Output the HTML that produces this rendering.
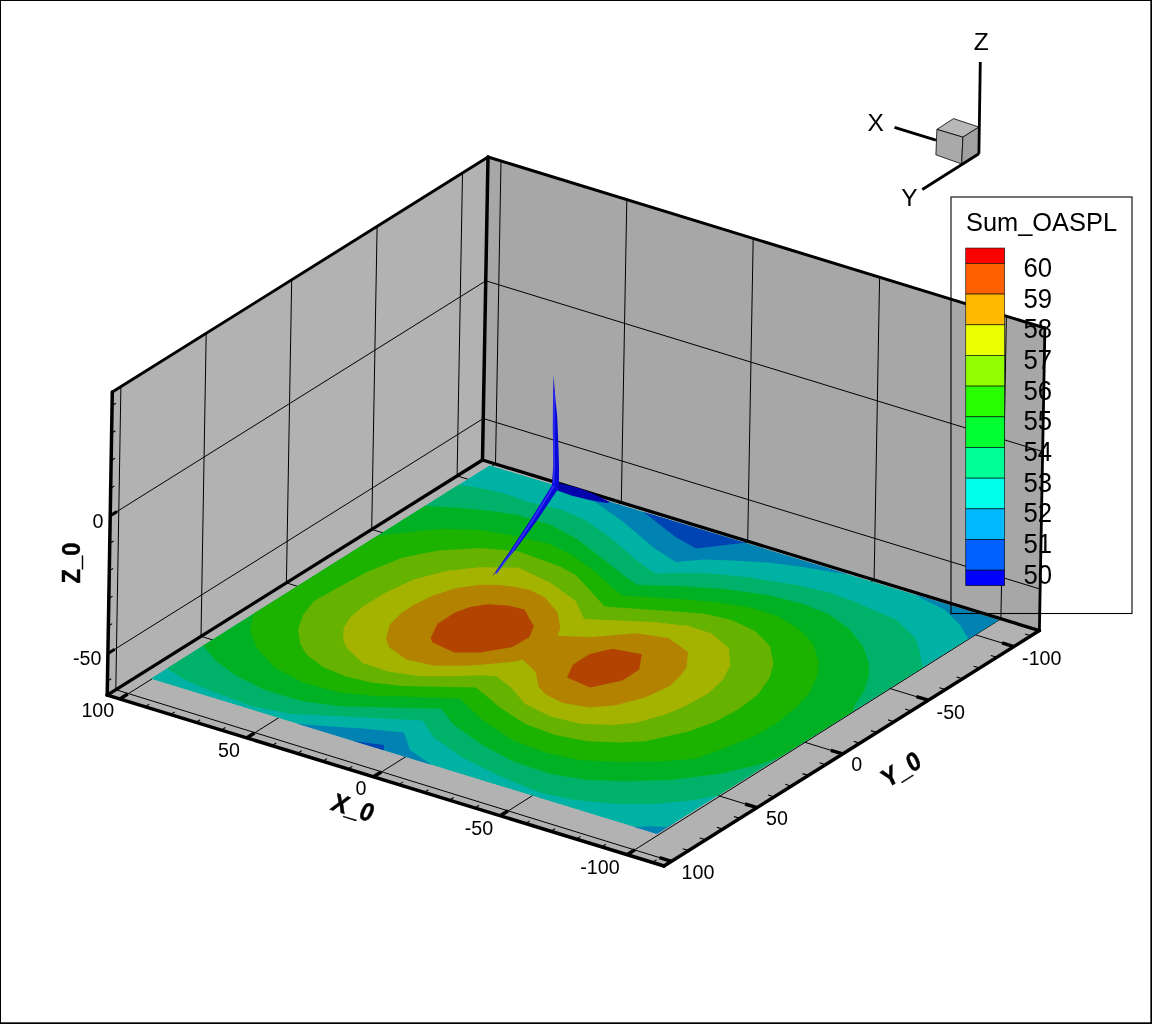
<!DOCTYPE html>
<html><head><meta charset="utf-8"><title>Sum_OASPL</title>
<style>html,body{margin:0;padding:0;background:#fff;}body{width:1152px;height:1024px;overflow:hidden;position:relative;font-family:"Liberation Sans",sans-serif;}</style>
</head><body>
<svg width="1152" height="1024" viewBox="0 0 1152 1024" style="position:absolute;left:0;top:0;display:block;will-change:transform" font-family="Liberation Sans, sans-serif">
<rect x="0" y="0" width="1152" height="1024" fill="#fff"/>
<polygon points="112.3,392.0 488.0,157.0 482.5,460.0 107.2,695.1" fill="#b2b2b2"/>
<polygon points="488.0,157.0 1044.9,328.0 1039.4,630.6 482.5,460.0" fill="#a7a7a7"/>
<polygon points="107.2,695.1 482.5,460.0 1039.4,630.6 664.0,866.0" fill="#b2b2b2"/>
<g stroke="#000" stroke-width="1" fill="none">
<line x1="120.9" y1="386.6" x2="115.8" y2="689.7"/>
<line x1="206.2" y1="333.2" x2="201.0" y2="636.3"/>
<line x1="291.7" y1="279.8" x2="286.4" y2="582.9"/>
<line x1="377.1" y1="226.4" x2="371.7" y2="529.4"/>
<line x1="462.5" y1="172.9" x2="457.1" y2="475.9"/>
<line x1="110.2" y1="515.8" x2="485.8" y2="280.8"/>
<line x1="485.8" y1="280.8" x2="1042.7" y2="451.6"/>
<line x1="107.9" y1="653.6" x2="483.3" y2="418.5"/>
<line x1="483.3" y1="418.5" x2="1040.2" y2="589.1"/>
<line x1="501.0" y1="161.0" x2="495.5" y2="464.0"/>
<line x1="626.8" y1="199.6" x2="621.3" y2="502.5"/>
<line x1="753.2" y1="238.4" x2="747.7" y2="541.2"/>
<line x1="879.6" y1="277.2" x2="874.1" y2="579.9"/>
<line x1="1006.4" y1="316.2" x2="1000.9" y2="618.8"/>
<line x1="119.8" y1="699.0" x2="495.5" y2="464.0"/>
<line x1="246.6" y1="737.9" x2="621.3" y2="502.5"/>
<line x1="373.7" y1="776.9" x2="747.7" y2="541.2"/>
<line x1="500.5" y1="815.8" x2="874.1" y2="579.9"/>
<line x1="627.0" y1="854.7" x2="1000.9" y2="618.8"/>
<line x1="115.8" y1="689.7" x2="671.5" y2="861.3"/>
<line x1="201.0" y1="636.3" x2="757.1" y2="807.6"/>
<line x1="286.4" y1="582.9" x2="842.7" y2="753.9"/>
<line x1="371.7" y1="529.4" x2="928.3" y2="700.3"/>
<line x1="457.1" y1="475.9" x2="1013.9" y2="646.6"/>
</g>
<defs><clipPath id="cq"><polygon points="150.5,678.7 489.6,465.2 998.8,620.0 657.0,834.0"/></clipPath></defs>
<g clip-path="url(#cq)">
<polygon points="150.5,678.7 489.6,465.2 998.8,620.0 657.0,834.0" fill="rgb(0,178,164)"/>
<polygon points="585.0,485.0 585.0,493.0 593.6,501.0 622.5,521.2 653.8,547.8 675.6,561.9 704.0,559.5 732.7,560.5 767.9,562.6 803.0,567.0 832.9,572.2 846.0,574.0 852.0,570.0 845.0,555.0" fill="rgb(0,130,178)"/>
<polygon points="905.0,585.0 910.0,590.0 920.0,597.5 945.0,610.0 960.0,625.0 967.5,637.5 972.0,646.0 1010.0,630.0 1000.0,605.0" fill="rgb(0,130,178)"/>
<polygon points="625.0,832.0 633.8,827.0 650.0,826.2 666.2,827.0 676.0,822.0 665.0,850.0 640.0,845.0" fill="rgb(0,130,178)"/>
<polygon points="292.0,726.0 297.5,723.8 327.5,726.2 365.0,728.8 404.0,732.5 410.0,750.0 430.0,763.8 438.0,772.0 280.0,732.0" fill="rgb(0,130,178)"/>
<polygon points="636.0,500.0 644.4,512.7 675.6,536.9 696.0,548.6 742.5,543.0 752.0,542.0 752.0,525.0" fill="rgb(0,67,178)"/>
<polygon points="352.5,741.0 383.8,745.0 384.0,751.5 384.0,760.0 350.0,748.0" fill="rgb(0,67,178)"/>
<polygon points="450.0,478.0 460.0,485.0 480.0,488.0 505.0,493.8 530.0,502.5 562.5,510.0 585.1,520.0 611.5,538.5 637.9,561.3 650.0,570.1 656.0,573.6 680.0,572.7 706.4,573.2 750.3,577.6 794.2,584.6 829.4,592.5 855.7,602.2 880.0,612.7 896.0,619.5 915.0,637.5 920.0,652.5 922.5,666.2 930.0,672.0 730.0,797.0 720.0,795.0 695.0,800.0 657.5,803.8 612.5,803.8 575.0,800.0 540.0,792.5 500.0,776.2 462.5,757.5 433.8,737.5 422.5,720.5 390.0,718.8 340.0,716.2 290.0,713.8 252.5,706.2 215.0,692.5 185.0,680.0 167.5,668.8 160.0,662.0" fill="rgb(0,178,105)"/>
<polygon points="418.0,500.0 427.5,506.2 455.0,507.5 492.5,511.2 518.0,515.0 550.0,524.8 576.4,538.5 602.7,558.7 624.7,576.2 637.9,585.0 680.0,586.0 723.9,589.0 767.9,595.1 803.0,603.9 829.4,614.5 848.7,628.5 862.8,646.1 868.9,663.7 868.9,676.0 864.5,690.1 855.7,704.1 853.1,709.4 862.0,717.0 792.0,760.0 782.5,756.2 757.5,765.0 720.0,773.8 670.0,780.0 625.0,781.2 587.5,780.0 550.0,773.8 512.5,761.2 482.5,745.0 453.8,725.0 441.2,708.8 390.0,707.5 340.0,706.2 302.5,701.2 265.0,690.0 235.0,675.0 215.0,660.0 203.8,646.2 196.0,640.0" fill="rgb(0,178,35)"/>
<polygon points="368.0,530.0 377.5,536.2 405.0,532.5 442.5,528.8 480.0,530.0 518.0,536.2 550.0,544.2 572.0,555.1 593.9,571.0 611.5,586.8 622.0,595.6 680.0,599.0 715.1,602.2 750.3,607.5 778.4,616.2 799.5,629.4 813.6,644.4 818.8,661.9 817.1,676.0 810.0,691.8 796.0,707.6 778.4,721.7 755.6,735.8 720.0,750.0 695.0,758.8 657.5,761.5 620.0,762.0 580.0,760.0 545.0,752.5 512.5,740.0 482.5,720.0 460.0,698.8 400.0,696.2 377.5,696.2 340.0,692.5 302.5,682.5 275.0,667.5 256.2,647.5 250.0,630.0 253.8,613.8 244.0,608.0" fill="rgb(28,178,0)"/>
<polygon points="518.0,551.2 560.0,566.6 575.6,575.0 591.2,591.6 604.5,606.4 680.0,611.8 706.4,614.1 732.7,620.6 755.6,631.2 770.0,646.1 773.5,663.7 769.6,677.8 757.3,695.3 738.0,709.4 715.1,721.7 688.8,731.4 680.0,733.5 645.0,741.2 620.0,742.5 587.5,741.2 555.0,735.0 525.0,723.8 500.0,707.5 476.2,687.5 438.2,686.7 403.0,685.9 371.4,682.4 345.0,676.2 322.2,666.5 306.4,654.2 300.2,643.7 298.1,629.6 302.8,615.6 313.4,601.5 338.0,587.5 367.9,571.6 403.0,557.6 438.2,550.5 480.0,548.0" fill="rgb(102,178,0)"/>
<polygon points="518.0,567.5 550.0,582.5 575.6,601.0 584.2,618.9 653.8,622.0 680.0,625.0 687.0,625.4 711.6,633.5 728.9,647.9 730.1,665.4 723.1,679.5 708.1,693.6 690.5,703.2 680.0,708.5 667.5,713.8 637.5,722.5 612.5,725.0 580.0,723.8 550.0,716.2 525.0,703.8 511.2,687.5 496.2,676.2 480.0,675.3 455.7,676.2 420.6,676.2 389.0,671.8 362.6,663.0 347.7,649.0 343.3,641.0 343.6,627.9 350.3,617.3 362.6,606.8 385.4,592.7 413.6,579.5 447.0,570.8 480.0,567.2" fill="rgb(164,178,0)"/>
<polygon points="518.0,587.5 530.0,590.0 545.0,597.5 557.5,612.5 560.5,628.0 557.5,636.0 592.5,637.0 636.2,633.2 668.0,638.0 680.0,646.1 687.9,652.3 686.7,667.2 680.0,676.0 670.0,686.0 645.0,697.5 615.7,705.3 589.4,707.5 563.0,703.1 545.4,694.3 538.4,686.4 535.8,672.3 529.5,666.0 522.6,659.5 515.6,661.4 495.0,663.5 480.0,664.8 464.5,665.7 434.7,665.7 406.5,659.5 389.0,647.2 386.0,638.4 389.8,624.4 401.3,612.9 413.6,605.0 432.9,595.4 455.7,588.3 480.0,584.8 500.0,585.0" fill="rgb(178,130,0)"/>
<polygon points="430.8,637.5 437.5,623.8 455.0,612.5 470.0,607.0 487.5,604.2 507.5,605.5 524.5,609.5 533.8,626.2 529.5,637.0 512.5,647.0 480.0,652.5 454.5,652.5 432.5,642.5" fill="rgb(178,67,0)"/>
<polygon points="567.0,677.5 573.0,664.5 590.0,654.0 612.5,648.8 641.8,654.2 639.2,669.5 622.5,680.5 590.0,687.5" fill="rgb(178,67,0)"/>
</g>
<line x1="112.3" y1="392.0" x2="488.0" y2="157.0" stroke="#000" stroke-width="2.9" stroke-linecap="round"/>
<line x1="488.0" y1="157.0" x2="1044.9" y2="328.0" stroke="#000" stroke-width="3.0" stroke-linecap="round"/>
<line x1="1044.9" y1="328.0" x2="1039.4" y2="630.6" stroke="#000" stroke-width="2.8" stroke-linecap="round"/>
<line x1="488.0" y1="157.0" x2="482.5" y2="460.0" stroke="#000" stroke-width="3.5" stroke-linecap="round"/>
<line x1="107.2" y1="695.1" x2="482.5" y2="460.0" stroke="#000" stroke-width="3.3" stroke-linecap="round"/>
<line x1="482.5" y1="460.0" x2="1039.4" y2="630.6" stroke="#000" stroke-width="3.3" stroke-linecap="round"/>
<line x1="112.3" y1="392.0" x2="107.2" y2="695.1" stroke="#000" stroke-width="3.5" stroke-linecap="round"/>
<line x1="107.2" y1="695.1" x2="664.0" y2="866.0" stroke="#000" stroke-width="3.5" stroke-linecap="round"/>
<line x1="664.0" y1="866.0" x2="1039.4" y2="630.6" stroke="#000" stroke-width="3.5" stroke-linecap="round"/>
<line x1="119.8" y1="699.0" x2="127.7" y2="694.0" stroke="#000" stroke-width="3.5"/>
<line x1="145.2" y1="706.8" x2="149.4" y2="704.1" stroke="#000" stroke-width="1.1"/>
<line x1="170.6" y1="714.5" x2="174.8" y2="711.9" stroke="#000" stroke-width="1.1"/>
<line x1="195.9" y1="722.3" x2="200.2" y2="719.7" stroke="#000" stroke-width="1.1"/>
<line x1="221.3" y1="730.1" x2="225.5" y2="727.5" stroke="#000" stroke-width="1.1"/>
<line x1="246.6" y1="737.9" x2="254.5" y2="733.0" stroke="#000" stroke-width="3.5"/>
<line x1="272.0" y1="745.7" x2="276.2" y2="743.0" stroke="#000" stroke-width="1.1"/>
<line x1="297.4" y1="753.5" x2="301.6" y2="750.8" stroke="#000" stroke-width="1.1"/>
<line x1="322.7" y1="761.2" x2="327.0" y2="758.6" stroke="#000" stroke-width="1.1"/>
<line x1="348.1" y1="769.0" x2="352.3" y2="766.4" stroke="#000" stroke-width="1.1"/>
<line x1="373.4" y1="776.8" x2="381.3" y2="771.9" stroke="#000" stroke-width="3.5"/>
<line x1="398.8" y1="784.6" x2="403.0" y2="781.9" stroke="#000" stroke-width="1.1"/>
<line x1="424.2" y1="792.4" x2="428.4" y2="789.7" stroke="#000" stroke-width="1.1"/>
<line x1="449.5" y1="800.2" x2="453.7" y2="797.5" stroke="#000" stroke-width="1.1"/>
<line x1="474.9" y1="808.0" x2="479.1" y2="805.3" stroke="#000" stroke-width="1.1"/>
<line x1="500.2" y1="815.7" x2="508.1" y2="810.8" stroke="#000" stroke-width="3.5"/>
<line x1="525.6" y1="823.5" x2="529.8" y2="820.9" stroke="#000" stroke-width="1.1"/>
<line x1="551.0" y1="831.3" x2="555.2" y2="828.6" stroke="#000" stroke-width="1.1"/>
<line x1="576.3" y1="839.1" x2="580.5" y2="836.4" stroke="#000" stroke-width="1.1"/>
<line x1="601.7" y1="846.9" x2="605.9" y2="844.2" stroke="#000" stroke-width="1.1"/>
<line x1="627.0" y1="854.7" x2="634.9" y2="849.7" stroke="#000" stroke-width="3.5"/>
<line x1="652.4" y1="862.4" x2="656.6" y2="859.8" stroke="#000" stroke-width="1.1"/>
<line x1="671.5" y1="861.3" x2="659.5" y2="857.6" stroke="#000" stroke-width="3.4"/>
<line x1="688.6" y1="850.6" x2="682.6" y2="848.7" stroke="#000" stroke-width="1.1"/>
<line x1="705.7" y1="839.8" x2="699.7" y2="838.0" stroke="#000" stroke-width="1.1"/>
<line x1="722.8" y1="829.1" x2="716.8" y2="827.3" stroke="#000" stroke-width="1.1"/>
<line x1="740.0" y1="818.4" x2="733.9" y2="816.5" stroke="#000" stroke-width="1.1"/>
<line x1="757.1" y1="807.6" x2="745.1" y2="804.0" stroke="#000" stroke-width="3.4"/>
<line x1="774.2" y1="796.9" x2="768.2" y2="795.0" stroke="#000" stroke-width="1.1"/>
<line x1="791.3" y1="786.2" x2="785.3" y2="784.3" stroke="#000" stroke-width="1.1"/>
<line x1="808.5" y1="775.4" x2="802.4" y2="773.6" stroke="#000" stroke-width="1.1"/>
<line x1="825.6" y1="764.7" x2="819.6" y2="762.8" stroke="#000" stroke-width="1.1"/>
<line x1="842.7" y1="753.9" x2="830.8" y2="750.3" stroke="#000" stroke-width="3.4"/>
<line x1="859.8" y1="743.2" x2="853.8" y2="741.4" stroke="#000" stroke-width="1.1"/>
<line x1="877.0" y1="732.5" x2="870.9" y2="730.6" stroke="#000" stroke-width="1.1"/>
<line x1="894.1" y1="721.7" x2="888.1" y2="719.9" stroke="#000" stroke-width="1.1"/>
<line x1="911.2" y1="711.0" x2="905.2" y2="709.1" stroke="#000" stroke-width="1.1"/>
<line x1="928.3" y1="700.2" x2="916.4" y2="696.6" stroke="#000" stroke-width="3.4"/>
<line x1="945.5" y1="689.5" x2="939.4" y2="687.7" stroke="#000" stroke-width="1.1"/>
<line x1="962.6" y1="678.8" x2="956.6" y2="676.9" stroke="#000" stroke-width="1.1"/>
<line x1="979.7" y1="668.0" x2="973.7" y2="666.2" stroke="#000" stroke-width="1.1"/>
<line x1="996.8" y1="657.3" x2="990.8" y2="655.4" stroke="#000" stroke-width="1.1"/>
<line x1="1013.9" y1="646.6" x2="1002.0" y2="642.9" stroke="#000" stroke-width="3.4"/>
<line x1="1031.1" y1="635.8" x2="1025.0" y2="634.0" stroke="#000" stroke-width="1.1"/>
<line x1="112.1" y1="405.6" x2="115.9" y2="403.2" stroke="#000" stroke-width="1.1"/>
<line x1="111.6" y1="433.2" x2="115.4" y2="430.8" stroke="#000" stroke-width="1.1"/>
<line x1="111.1" y1="460.7" x2="115.0" y2="458.3" stroke="#000" stroke-width="1.1"/>
<line x1="110.7" y1="488.3" x2="114.5" y2="485.9" stroke="#000" stroke-width="1.1"/>
<line x1="110.2" y1="515.8" x2="117.0" y2="511.6" stroke="#000" stroke-width="3.0"/>
<line x1="109.8" y1="543.4" x2="113.6" y2="541.0" stroke="#000" stroke-width="1.1"/>
<line x1="109.3" y1="570.9" x2="113.1" y2="568.5" stroke="#000" stroke-width="1.1"/>
<line x1="108.8" y1="598.5" x2="112.6" y2="596.1" stroke="#000" stroke-width="1.1"/>
<line x1="108.4" y1="626.0" x2="112.2" y2="623.6" stroke="#000" stroke-width="1.1"/>
<line x1="107.9" y1="653.6" x2="114.7" y2="649.3" stroke="#000" stroke-width="3.0"/>
<line x1="107.4" y1="681.1" x2="111.2" y2="678.7" stroke="#000" stroke-width="1.1"/>
<polygon points="556,482.8 565,484.6 580.8,488.8 595,494.6 609.8,501.9 606.8,503 589.4,500 572.1,495.7 557.3,490.6" fill="#0404ae"/>
<polygon points="553.6,375.3 553.0,400 552.8,427.4 553.2,450 553.3,466 552.1,481.7 552,486.5 558.6,487 559,482 559,466 558.2,440 557.2,416.2 555.5,400 554.3,385" fill="#0a0ad6"/>
<polygon points="552.1,485.1 530.4,520 510,551 491.6,577.2 516,549 537.4,520 558.2,488.8 556,484.5" fill="#0a0ad6"/>
<polyline points="554.1,392 554.0,430 554.4,466 553.6,483" fill="none" stroke="#3030f8" stroke-width="1.5"/>
<polyline points="554.2,485.6 532.5,520.5 512,551.5 496,573.5" fill="none" stroke="#3434fa" stroke-width="1.6"/>
<text transform="translate(97.8,717.0) scale(1.01,1.06)" font-size="19.5" text-anchor="middle" fill="#000">100</text>
<text transform="translate(229.0,756.5) scale(1.01,1.06)" font-size="19.5" text-anchor="middle" fill="#000">50</text>
<text transform="translate(361.0,795.0) scale(1.01,1.06)" font-size="19.5" text-anchor="middle" fill="#000">0</text>
<text transform="translate(479.0,834.5) scale(1.01,1.06)" font-size="19.5" text-anchor="middle" fill="#000">-50</text>
<text transform="translate(600.0,873.5) scale(1.01,1.06)" font-size="19.5" text-anchor="middle" fill="#000">-100</text>
<text transform="translate(698.0,879.0) scale(1.01,1.06)" font-size="19.5" text-anchor="middle" fill="#000">100</text>
<text transform="translate(777.0,825.0) scale(1.01,1.06)" font-size="19.5" text-anchor="middle" fill="#000">50</text>
<text transform="translate(856.8,771.1) scale(1.01,1.06)" font-size="19.5" text-anchor="middle" fill="#000">0</text>
<text transform="translate(950.8,718.5) scale(1.01,1.06)" font-size="19.5" text-anchor="middle" fill="#000">-50</text>
<text transform="translate(1041.8,664.5) scale(1.01,1.06)" font-size="19.5" text-anchor="middle" fill="#000">-100</text>
<text transform="translate(103.5,527.8) scale(1.01,1.06)" font-size="19.5" text-anchor="end" fill="#000">0</text>
<text transform="translate(101.5,665.0) scale(1.01,1.06)" font-size="19.5" text-anchor="end" fill="#000">-50</text>
<g transform="translate(70.8,563) rotate(-90) skewX(0) scale(0.93,1)"><text x="0" y="9.1" font-size="25.5" font-weight="bold" text-anchor="middle" fill="#000" stroke="#000" stroke-width="0.45">Z_0</text></g>
<g transform="translate(353.3,807.3) rotate(17.5) skewX(-6) scale(0.93,1)"><text x="0" y="9.1" font-size="25.5" font-weight="bold" text-anchor="middle" fill="#000" stroke="#000" stroke-width="0.45">X_0</text></g>
<g transform="translate(901,769) rotate(-32.5) skewX(-6) scale(0.93,1)"><text x="0" y="9.1" font-size="25.5" font-weight="bold" text-anchor="middle" fill="#000" stroke="#000" stroke-width="0.45">Y_0</text></g>
<polygon points="936.9,129.4 953.5,118.6 978.9,127 962.9,137.2" fill="#b8b8b8" stroke="#000" stroke-width="0.8"/>
<polygon points="936.9,129.4 962.9,137.2 961.7,164 935.9,154.8" fill="#a9a9a9" stroke="#000" stroke-width="0.8"/>
<polygon points="962.9,137.2 978.9,127 978.9,153.8 961.7,164" fill="#a0a0a0" stroke="#000" stroke-width="0.8"/>
<line x1="980.3" y1="62" x2="978.9" y2="153.8" stroke="#000" stroke-width="2.8"/>
<line x1="978.9" y1="153.8" x2="922.3" y2="189.5" stroke="#000" stroke-width="2.8"/>
<line x1="894.5" y1="127.4" x2="935.9" y2="140.1" stroke="#000" stroke-width="2.8"/>
<text x="981.3" y="49.7" font-size="24.5" text-anchor="middle">Z</text>
<text x="875.6" y="130.9" font-size="24.5" text-anchor="middle">X</text>
<text x="909.3" y="205.5" font-size="24.5" text-anchor="middle">Y</text>
<rect x="951" y="197" width="181" height="416.5" fill="none" stroke="#000" stroke-width="1.1"/>
<text x="966" y="231.3" font-size="25.4">Sum_OASPL</text>
<rect x="965.7" y="248.06" width="38.9" height="15.34" fill="rgb(255,0,0)" stroke="#000" stroke-opacity="0.75" stroke-width="0.8"/>
<rect x="965.7" y="263.40" width="38.9" height="30.68" fill="rgb(255,96,0)" stroke="#000" stroke-opacity="0.75" stroke-width="0.8"/>
<rect x="965.7" y="294.08" width="38.9" height="30.68" fill="rgb(255,185,0)" stroke="#000" stroke-opacity="0.75" stroke-width="0.8"/>
<rect x="965.7" y="324.76" width="38.9" height="30.68" fill="rgb(234,255,0)" stroke="#000" stroke-opacity="0.75" stroke-width="0.8"/>
<rect x="965.7" y="355.44" width="38.9" height="30.68" fill="rgb(145,255,0)" stroke="#000" stroke-opacity="0.75" stroke-width="0.8"/>
<rect x="965.7" y="386.12" width="38.9" height="30.68" fill="rgb(40,255,0)" stroke="#000" stroke-opacity="0.75" stroke-width="0.8"/>
<rect x="965.7" y="416.80" width="38.9" height="30.68" fill="rgb(0,255,50)" stroke="#000" stroke-opacity="0.75" stroke-width="0.8"/>
<rect x="965.7" y="447.48" width="38.9" height="30.68" fill="rgb(0,255,150)" stroke="#000" stroke-opacity="0.75" stroke-width="0.8"/>
<rect x="965.7" y="478.16" width="38.9" height="30.68" fill="rgb(0,255,234)" stroke="#000" stroke-opacity="0.75" stroke-width="0.8"/>
<rect x="965.7" y="508.84" width="38.9" height="30.68" fill="rgb(0,185,255)" stroke="#000" stroke-opacity="0.75" stroke-width="0.8"/>
<rect x="965.7" y="539.52" width="38.9" height="30.68" fill="rgb(0,96,255)" stroke="#000" stroke-opacity="0.75" stroke-width="0.8"/>
<rect x="965.7" y="570.20" width="38.9" height="15.34" fill="rgb(0,0,255)" stroke="#000" stroke-opacity="0.75" stroke-width="0.8"/>
<text transform="translate(1023.4,277.0) scale(1.03,1.07)" font-size="25">60</text>
<text transform="translate(1023.4,307.7) scale(1.03,1.07)" font-size="25">59</text>
<text transform="translate(1023.4,338.4) scale(1.03,1.07)" font-size="25">58</text>
<text transform="translate(1023.4,369.0) scale(1.03,1.07)" font-size="25">57</text>
<text transform="translate(1023.4,399.7) scale(1.03,1.07)" font-size="25">56</text>
<text transform="translate(1023.4,430.4) scale(1.03,1.07)" font-size="25">55</text>
<text transform="translate(1023.4,461.1) scale(1.03,1.07)" font-size="25">54</text>
<text transform="translate(1023.4,491.8) scale(1.03,1.07)" font-size="25">53</text>
<text transform="translate(1023.4,522.4) scale(1.03,1.07)" font-size="25">52</text>
<text transform="translate(1023.4,553.1) scale(1.03,1.07)" font-size="25">51</text>
<text transform="translate(1023.4,583.8) scale(1.03,1.07)" font-size="25">50</text>
<rect x="0.5" y="0.5" width="1150.6" height="1022.6" fill="none" stroke="#000" stroke-width="1"/>
<line x1="1151.3" y1="0" x2="1151.3" y2="1024" stroke="#000" stroke-width="1.4"/>
<line x1="0" y1="1023.3" x2="1152" y2="1023.3" stroke="#000" stroke-width="1.4"/>
</svg>
</body></html>
